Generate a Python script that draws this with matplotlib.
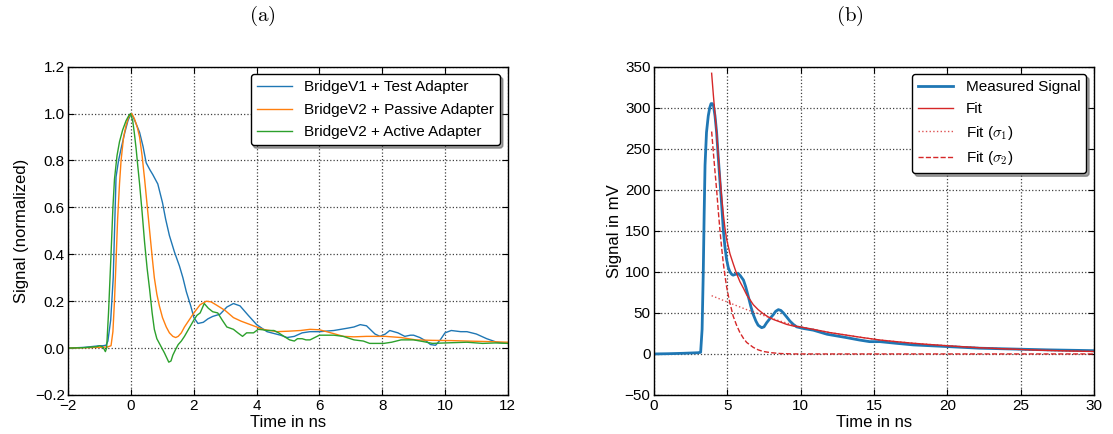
import matplotlib
matplotlib.use('Agg')
import matplotlib.pyplot as plt

plt.rcParams['font.family'] = ['Liberation Sans', 'DejaVu Sans']
plt.rcParams['mathtext.fontset'] = 'cm'
plt.rcParams['xtick.direction'] = 'in'
plt.rcParams['ytick.direction'] = 'in'
plt.rcParams['xtick.top'] = True
plt.rcParams['ytick.right'] = True
plt.rcParams['xtick.major.size'] = 4
plt.rcParams['ytick.major.size'] = 4
plt.rcParams['xtick.major.pad'] = 3
plt.rcParams['ytick.major.pad'] = 2.5
plt.rcParams['xtick.labelsize'] = 11
plt.rcParams['ytick.labelsize'] = 11
plt.rcParams['axes.labelsize'] = 12
plt.rcParams['axes.linewidth'] = 1.0

# (a) normalized signals
t_v1 = [-2, -1.5, -1.0, -0.9, -0.8, -0.74, -0.65, -0.57, -0.48, -0.4, -0.32, -0.2, -0.1, 0, 0.05,
        0.15, 0.27, 0.38, 0.48, 0.6, 0.69, 0.85, 1.0, 1.1, 1.22, 1.38, 1.54, 1.65, 1.76, 1.9,
        2.0, 2.13, 2.3, 2.45, 2.6, 2.84, 3.05, 3.26, 3.47, 3.73, 4.0, 4.33, 4.76, 4.97, 5.2,
        5.45, 5.7, 6.0, 6.46, 6.9, 7.1, 7.3, 7.5, 7.77, 7.93, 8.1, 8.24, 8.5, 8.72, 8.9,
        9.0, 9.2, 9.4, 9.54, 9.7, 9.85, 10.0, 10.2, 10.5, 10.7, 11.0, 11.33, 11.65, 12]
s_v1 = [0, 0.003, 0.01, 0.01, 0.012, 0.03, 0.12, 0.3, 0.73, 0.8, 0.85, 0.92, 0.97, 1.0, 0.99,
        0.96, 0.92, 0.86, 0.79, 0.76, 0.74, 0.70, 0.62, 0.55, 0.48, 0.41, 0.35, 0.30, 0.24, 0.18,
        0.13, 0.105, 0.11, 0.125, 0.135, 0.145, 0.175, 0.19, 0.18, 0.14, 0.10, 0.07, 0.055, 0.045, 0.05,
        0.065, 0.07, 0.07, 0.075, 0.085, 0.09, 0.10, 0.095, 0.06, 0.05, 0.06, 0.075, 0.065, 0.05, 0.055,
        0.055, 0.045, 0.03, 0.015, 0.012, 0.035, 0.065, 0.075, 0.07, 0.07, 0.06, 0.04, 0.025, 0.02]

t_pass = [-2, -1.0, -0.75, -0.64, -0.58, -0.53, -0.48, -0.43, -0.37, -0.32, -0.24, -0.16, -0.08, 0.02,
          0.1, 0.2, 0.27, 0.35, 0.43, 0.51, 0.59, 0.67, 0.74, 0.82, 0.9, 1.0, 1.12, 1.22, 1.33,
          1.42, 1.5, 1.6, 1.7, 1.85, 2.0, 2.2, 2.4, 2.55, 2.7, 3.0, 3.26, 3.5, 3.8, 4.2, 4.65,
          5.0, 5.4, 5.7, 6.0, 6.23, 6.5, 6.76, 7.1, 7.5, 8.1, 8.6, 9.07, 9.6, 10.2, 10.7, 11.3, 12]
s_pass = [0.0, 0.003, 0.005, 0.01, 0.07, 0.2, 0.37, 0.55, 0.70, 0.8, 0.9, 0.95, 0.985, 1.0,
          0.98, 0.94, 0.9, 0.82, 0.72, 0.61, 0.5, 0.39, 0.3, 0.23, 0.18, 0.13, 0.09, 0.065, 0.05,
          0.045, 0.05, 0.065, 0.09, 0.12, 0.15, 0.185, 0.2, 0.197, 0.185, 0.16, 0.13, 0.115, 0.1, 0.08, 0.07,
          0.072, 0.075, 0.08, 0.078, 0.07, 0.06, 0.05, 0.048, 0.05, 0.05, 0.045, 0.035, 0.033, 0.032, 0.03, 0.028, 0.025]

t_act = [-2, -1.5, -1.1, -1.0, -0.9, -0.82, -0.78, -0.72, -0.64, -0.58, -0.53, -0.45, -0.37, -0.27,
         -0.16, -0.08, -0.02, 0.05, 0.1, 0.16, 0.21, 0.27, 0.35, 0.43, 0.51, 0.59, 0.67, 0.74,
         0.82, 0.9, 1.0, 1.06, 1.13, 1.2, 1.27, 1.33, 1.42, 1.5, 1.6, 1.7, 1.85, 2.0, 2.1, 2.2,
         2.33, 2.46, 2.6, 2.76, 2.9, 3.05, 3.26, 3.4, 3.55, 3.68, 3.9, 4.05, 4.2, 4.33, 4.55, 4.7,
         4.87, 5.05, 5.2, 5.3, 5.45, 5.57, 5.7, 5.85, 6.0, 6.2, 6.46, 6.76, 7.1, 7.4, 7.6, 8.05,
         8.3, 8.6, 9.0, 9.3, 9.6, 10.0, 10.7, 11.2, 11.6, 12]
s_act = [0, 0.002, 0.006, 0.01, 0.005, -0.015, 0.0, 0.15, 0.4, 0.6, 0.72, 0.82, 0.88, 0.93,
         0.97, 0.99, 1.0, 0.97, 0.92, 0.85, 0.78, 0.7, 0.58, 0.45, 0.34, 0.25, 0.15, 0.08,
         0.04, 0.02, -0.005, -0.02, -0.04, -0.06, -0.055, -0.03, -0.005, 0.015, 0.03, 0.05, 0.085, 0.12, 0.14, 0.15,
         0.19, 0.17, 0.155, 0.15, 0.12, 0.09, 0.08, 0.065, 0.05, 0.065, 0.065, 0.08, 0.078, 0.075, 0.075, 0.065,
         0.05, 0.035, 0.03, 0.04, 0.04, 0.035, 0.035, 0.045, 0.055, 0.055, 0.055, 0.05, 0.035, 0.03, 0.02, 0.02,
         0.025, 0.035, 0.035, 0.028, 0.02, 0.022, 0.025, 0.02, 0.022, 0.02]

# (b) measured signal and fit, mV
t_meas = [0, 1, 2, 3.0, 3.18, 3.28, 3.36, 3.42, 3.48, 3.58, 3.7, 3.8, 3.89, 3.97, 4.05, 4.16,
          4.27, 4.38, 4.5, 4.62, 4.73, 4.84, 4.95, 5.07, 5.18, 5.3, 5.4, 5.55, 5.75, 5.9, 6.1,
          6.25, 6.43, 6.6, 6.77, 6.95, 7.1, 7.34, 7.5, 7.68, 7.9, 8.14, 8.3, 8.48, 8.65, 8.82,
          9.05, 9.27, 9.5, 9.73, 10.2, 10.86, 11.8, 13.1, 14.0, 14.7, 15.4, 16.5, 17.7, 20,
          22.2, 24.5, 26.8, 30]
v_meas = [0, 0.3, 0.8, 1.5, 2, 30, 100, 170, 230, 270, 290, 300, 305, 305, 303, 290,
          270, 240, 210, 180, 150, 130, 115, 105, 100, 97, 96, 97, 98, 95, 90,
          82, 70, 58, 48, 40, 35, 32, 33, 38, 43, 48, 52, 54, 53, 50,
          45, 40, 36, 33, 31, 29, 24, 20, 17, 15, 15, 13, 11, 9,
          7, 6, 5, 4]

t_fit = [3.93, 4.05, 4.16, 4.27, 4.38, 4.5, 4.62, 4.73, 4.84, 4.95, 5.18, 5.4, 5.63, 5.86,
         6.1, 6.32, 6.55, 6.77, 7.1, 7.45, 7.8, 8.14, 8.6, 9.05, 9.5, 9.95, 10.86, 12, 13.1,
         14.2, 15.4, 16.5, 17.7, 18.8, 20, 21.1, 22.2, 23.4, 24.5, 25.6, 26.8, 28.4, 30]
v_fit = [342, 315, 292, 270, 242, 215, 190, 170, 153, 140, 122, 110, 98, 88,
         80, 72, 66, 60, 54, 49, 45, 42, 39, 36, 34, 33, 30, 26, 23,
         20, 17, 15, 13, 11.5, 10, 8.7, 7.6, 6.6, 5.8, 5, 4.3, 3.6, 3]

t_sig1 = [3.93, 5.18, 6.32, 7.45, 8.6, 9.95, 10.86, 12, 13.1, 14.2, 15.4, 16.5, 17.7, 18.8,
          20, 21.1, 22.2, 23.4, 24.5, 25.6, 26.8, 28.4, 30]
v_sig1 = [71, 62, 54, 47, 40, 33, 30, 26, 23, 20, 17, 15, 13, 11.5,
          10, 8.7, 7.6, 6.6, 5.8, 5, 4.3, 3.6, 3]

t_sig2 = [3.93, 4.05, 4.16, 4.27, 4.38, 4.5, 4.62, 4.73, 4.84, 4.95, 5.07, 5.18, 5.4, 5.63,
          5.86, 6.1, 6.32, 6.77, 7.1, 7.45, 8.0, 8.6, 9.5, 12, 30]
v_sig2 = [271, 245, 222, 200, 175, 150, 128, 110, 95, 82, 71, 62, 46, 35,
          26, 19, 14, 8, 5, 3, 1.5, 0.5, 0, 0, 0]

blue, orange, green, red = '#1f77b4', '#ff7f0e', '#2ca02c', '#d62728'

fig = plt.figure(figsize=(11.13, 4.34), dpi=100)
ax1 = fig.add_axes([0.0614, 0.0899, 0.3948, 0.7564])
ax2 = fig.add_axes([0.5876, 0.0899, 0.3953, 0.7564])


def style_legend(leg):
    frame = leg.get_frame()
    frame.set_edgecolor('black')
    frame.set_linewidth(1.0)
    frame.set_boxstyle('round', pad=0, rounding_size=0.2)


ax1.plot(t_v1, s_v1, color=blue, lw=1.0, label='BridgeV1 + Test Adapter')
ax1.plot(t_pass, s_pass, color=orange, lw=1.0, label='BridgeV2 + Passive Adapter')
ax1.plot(t_act, s_act, color=green, lw=1.0, label='BridgeV2 + Active Adapter')
ax1.set_xlim(-2, 12)
ax1.set_ylim(-0.2, 1.2)
ax1.set_xticks(range(-2, 13, 2))
ax1.set_yticks([-0.2, 0.0, 0.2, 0.4, 0.6, 0.8, 1.0, 1.2])
ax1.set_xlabel('Time in ns', labelpad=1)
ax1.set_ylabel('Signal (normalized)', labelpad=4)
ax1.grid(True, linestyle=':', color='0.25', lw=0.9)
leg1 = ax1.legend(loc='upper right', fontsize=11, shadow=True, fancybox=True, framealpha=1,
                  handlelength=2.3, handletextpad=0.8, borderpad=0.4, labelspacing=0.55)
style_legend(leg1)

ax2.plot(t_meas, v_meas, color=blue, lw=2.0, label='Measured Signal')
ax2.plot(t_fit, v_fit, color=red, lw=1.0, label='Fit')
ax2.plot(t_sig1, v_sig1, color=red, lw=1.0, ls=':', alpha=0.8, label=r'Fit ($\sigma_1$)')
ax2.plot(t_sig2, v_sig2, color=red, lw=1.0, ls='--', label=r'Fit ($\sigma_2$)')
ax2.set_xlim(0, 30)
ax2.set_ylim(-50, 350)
ax2.set_xticks(range(0, 31, 5))
ax2.set_yticks(range(-50, 351, 50))
ax2.set_xlabel('Time in ns', labelpad=1)
ax2.set_ylabel('Signal in mV', labelpad=2)
ax2.grid(True, linestyle=':', color='0.25', lw=0.9)
leg2 = ax2.legend(loc='upper right', fontsize=11, shadow=True, fancybox=True, framealpha=1,
                  handlelength=2.3, handletextpad=0.8, borderpad=0.4, labelspacing=0.5)
style_legend(leg2)

fig.text(262 / 1113, 1 - 16 / 434, r'$\mathrm{(a)}$', ha='center', va='center', fontsize=15)
fig.text(850 / 1113, 1 - 16 / 434, r'$\mathrm{(b)}$', ha='center', va='center', fontsize=15)

fig.savefig('out.png', dpi=100)
